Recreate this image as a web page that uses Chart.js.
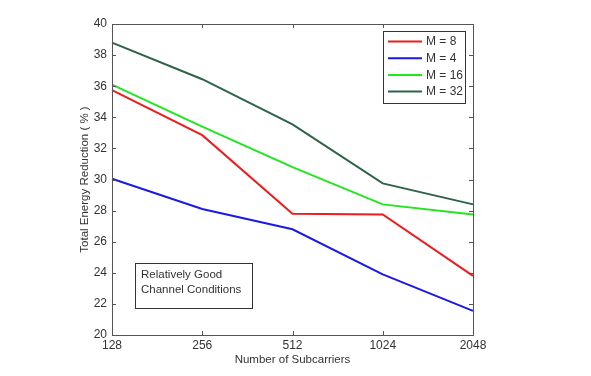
<!DOCTYPE html>
<html>
<head>
<meta charset="utf-8">
<script src="https://cdn.jsdelivr.net/npm/chart.js@4"></script>
<style>
  html, body { margin: 0; padding: 0; background: #fff; }
  #box { width: 591px; height: 376px; }
</style>
</head>
<body>
<div id="box"><canvas id="graphCanvas"></canvas></div>
<script>
// dati
var subcarriers = ["128", "256", "512", "1024", "2048"];
var m8  = [35.75, 32.85, 27.8, 27.75, 23.8];
var m4  = [30.05, 28.1, 26.8, 23.9, 21.55];
var m16 = [36.1, 33.4, 30.8, 28.4, 27.75];
var m32 = [38.8, 36.45, 33.55, 29.75, 28.4];
var yTicks = [20, 22, 24, 26, 28, 30, 32, 34, 36, 38, 40];

var axisColor = "#555555";
var font = "Liberation Sans, Arial, sans-serif";

// cornice, tacche interne, legenda e riquadro di testo in stile Matlab
var matlabStyle = {
    id: "matlabStyle",
    afterDraw: function (chart) {
        var ctx = chart.ctx;
        var a = chart.chartArea;
        var xs = chart.scales.x, ys = chart.scales.y;
        ctx.save();
        ctx.strokeStyle = axisColor;
        ctx.lineWidth = 1;
        ctx.strokeRect(a.left + 0.5, a.top + 0.5, a.right - a.left, a.bottom - a.top);
        ctx.beginPath();
        for (var i = 0; i < subcarriers.length; i++) {
            var px = Math.round(xs.getPixelForValue(i)) + 0.5;
            ctx.moveTo(px, a.bottom); ctx.lineTo(px, a.bottom - 4);
            ctx.moveTo(px, a.top); ctx.lineTo(px, a.top + 4);
        }
        for (var j = 0; j < yTicks.length; j++) {
            var py = Math.round(ys.getPixelForValue(yTicks[j])) + 0.5;
            ctx.moveTo(a.left, py); ctx.lineTo(a.left + 4, py);
            ctx.moveTo(a.right, py); ctx.lineTo(a.right - 4, py);
        }
        ctx.stroke();

        // legenda
        var lx = 383, ly = 31, lw = 82, lh = 72;
        ctx.fillStyle = "#fff";
        ctx.fillRect(lx, ly, lw, lh);
        ctx.strokeStyle = "#333";
        ctx.strokeRect(lx + 0.5, ly + 0.5, lw, lh);
        ctx.font = "12px " + font;
        ctx.textBaseline = "middle";
        chart.data.datasets.forEach(function (ds, k) {
            var yy = 41.5 + k * 16.7;
            ctx.strokeStyle = ds.borderColor;
            ctx.lineWidth = 2;
            ctx.beginPath();
            ctx.moveTo(388, yy); ctx.lineTo(422, yy);
            ctx.stroke();
            ctx.fillStyle = "#333";
            ctx.fillText(ds.label, 426, yy + 0.5);
        });

        // riquadro di testo
        ctx.lineWidth = 1;
        ctx.fillStyle = "#fff";
        ctx.fillRect(135, 263, 117, 45);
        ctx.strokeStyle = "#333";
        ctx.strokeRect(135.5, 263.5, 117, 45);
        ctx.fillStyle = "#333";
        ctx.font = "11.5px " + font;
        ctx.fillText("Relatively Good", 141, 275);
        ctx.fillText("Channel Conditions", 141, 290);
        ctx.restore();
    }
};

var chartdata = {
    labels: subcarriers,
    datasets: [
        { label: "M = 8",  data: m8,  borderColor: "#ee1c1c" },
        { label: "M = 4",  data: m4,  borderColor: "#1a1ae6" },
        { label: "M = 16", data: m16, borderColor: "#22e61e" },
        { label: "M = 32", data: m32, borderColor: "#2d6448" }
    ]
};
chartdata.datasets.forEach(function (d) {
    d.borderWidth = 2;
    d.pointRadius = 0;
    d.tension = 0;
    d.fill = false;
});

var barGraph = new Chart(document.getElementById("graphCanvas"), {
    type: "line",
    data: chartdata,
    plugins: [matlabStyle],
    options: {
        responsive: true,
        maintainAspectRatio: false,
        animation: false,
        layout: { padding: { top: 24, right: 118, left: 78, bottom: 9 } },
        plugins: { legend: { display: false }, tooltip: { enabled: false } },
        scales: {
            x: {
                type: "category",
                offset: false,
                grid: { display: false, drawTicks: false },
                border: { display: false },
                ticks: { color: "#333", font: { family: font, size: 12 }, padding: 3, maxRotation: 0 },
                title: { display: true, text: "Number of Subcarriers", color: "#333",
                         font: { family: font, size: 11.5 }, padding: { top: 1, bottom: 0 } },
                afterFit: function (s) { s.height = 32; }
            },
            y: {
                min: 20, max: 40,
                grid: { display: false, drawTicks: false },
                border: { display: false },
                afterBuildTicks: function (s) { s.ticks = yTicks.map(function (v) { return { value: v }; }); },
                ticks: { color: "#333", font: { family: font, size: 12 }, padding: 5 },
                title: { display: true, text: "Total Energy Reduction ( % )", color: "#333",
                         font: { family: font, size: 11.5 }, padding: { top: 0, bottom: 0 } },
                afterFit: function (s) { s.width = 34; }
            }
        }
    }
});
</script>
</body>
</html>
